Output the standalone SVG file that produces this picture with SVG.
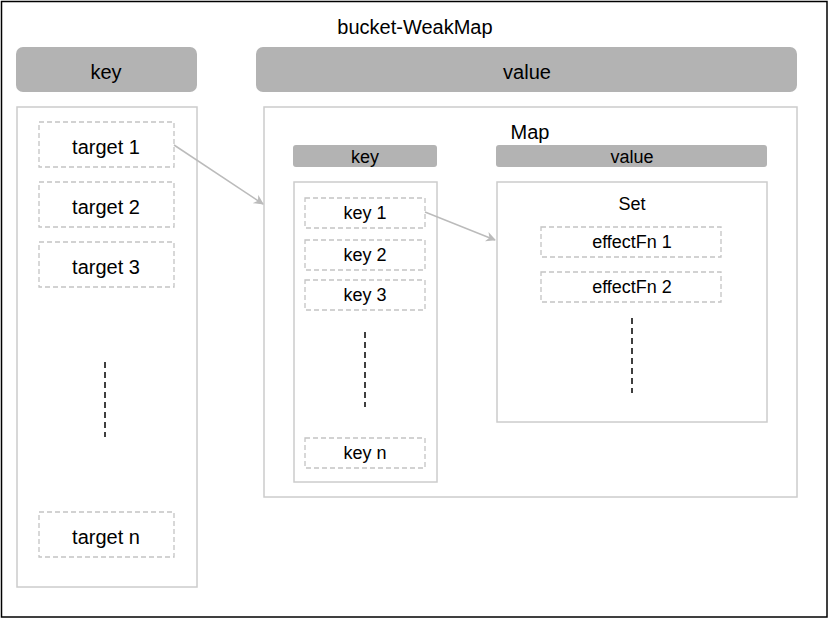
<svg xmlns="http://www.w3.org/2000/svg" width="829" height="620" viewBox="0 0 829 620">
<defs>
<style>
text{font-family:"Liberation Sans",Arial,sans-serif;fill:#000;text-anchor:middle;dominant-baseline:central}
.big{font-size:20px}
.sm{font-size:18px}
.hdr{fill:#b3b3b3;stroke:none}
.box{fill:#fff;stroke:#cccccc;stroke-width:1.5}
.dash{fill:#fff;stroke:#c4c4c4;stroke-width:1.3;stroke-dasharray:5 3}
.vd{stroke:#000;stroke-width:1.5;stroke-dasharray:6 4;fill:none}
.conn{stroke:#bbbbbb;stroke-width:1.5;fill:none}
</style>
<marker id="ah" viewBox="0 0 10 10" refX="9" refY="5" markerWidth="10" markerHeight="10" markerUnits="userSpaceOnUse" orient="auto">
<path d="M0,0 L10,5 L0,10 L3,5 Z" fill="#bbbbbb"/>
</marker>
</defs>
<rect x="0" y="0" width="829" height="620" fill="#fff"/>
<rect x="1.5" y="1.5" width="825.5" height="615.5" fill="#fff" stroke="#000" stroke-width="1.5"/>
<text class="big" x="415" y="27">bucket-WeakMap</text>

<g id="key-header"><rect class="hdr" x="16" y="47" width="181" height="45" rx="7"/><text class="big" x="106" y="72">key</text></g>
<g id="value-header"><rect class="hdr" x="256" y="47" width="541" height="45" rx="7"/><text class="big" x="527" y="72">value</text></g>

<g id="key-container"><rect class="box" x="17" y="107" width="180" height="480"/></g>
<g id="target1"><rect class="dash" x="39" y="122" width="135" height="45"/><text class="big" x="106" y="147">target 1</text></g>
<g id="target2"><rect class="dash" x="39" y="182" width="135" height="45"/><text class="big" x="106" y="207">target 2</text></g>
<g id="target3"><rect class="dash" x="39" y="242" width="135" height="45"/><text class="big" x="106" y="267">target 3</text></g>
<g id="targetn"><rect class="dash" x="39" y="512" width="135" height="45"/><text class="big" x="106" y="537">target n</text></g>
<line class="vd" x1="105" y1="362" x2="105" y2="437"/>

<g id="map"><rect class="box" x="264" y="107" width="533" height="390"/><text class="big" x="530" y="132">Map</text></g>
<g id="map-key-header"><rect class="hdr" x="293" y="145" width="144" height="22" rx="3"/><text class="sm" x="365" y="157">key</text></g>
<g id="map-value-header"><rect class="hdr" x="496" y="145" width="271" height="22" rx="3"/><text class="sm" x="632" y="157">value</text></g>
<g id="map-key-container"><rect class="box" x="294" y="182" width="143" height="300"/></g>
<g id="key1"><rect class="dash" x="305" y="198" width="120" height="30"/><text class="sm" x="365" y="213">key 1</text></g>
<g id="key2"><rect class="dash" x="305" y="240" width="120" height="30"/><text class="sm" x="365" y="255">key 2</text></g>
<g id="key3"><rect class="dash" x="305" y="280" width="120" height="30"/><text class="sm" x="365" y="295">key 3</text></g>
<g id="keyn"><rect class="dash" x="305" y="438" width="120" height="30"/><text class="sm" x="365" y="453">key n</text></g>
<line class="vd" x1="365" y1="332" x2="365" y2="407"/>

<g id="set"><rect class="box" x="497" y="182" width="270" height="240"/><text class="sm" x="632" y="204">Set</text></g>
<g id="effectFn1"><rect class="dash" x="541" y="227" width="180" height="30"/><text class="sm" x="632" y="242">effectFn 1</text></g>
<g id="effectFn2"><rect class="dash" x="541" y="272" width="180" height="30"/><text class="sm" x="632" y="287">effectFn 2</text></g>
<line class="vd" x1="632" y1="318" x2="632" y2="393"/>

<g id="connectors">
<line class="conn" x1="174" y1="145" x2="263" y2="204" marker-end="url(#ah)"/>
<line class="conn" x1="425" y1="212" x2="495" y2="240" marker-end="url(#ah)"/>
</g>
</svg>
